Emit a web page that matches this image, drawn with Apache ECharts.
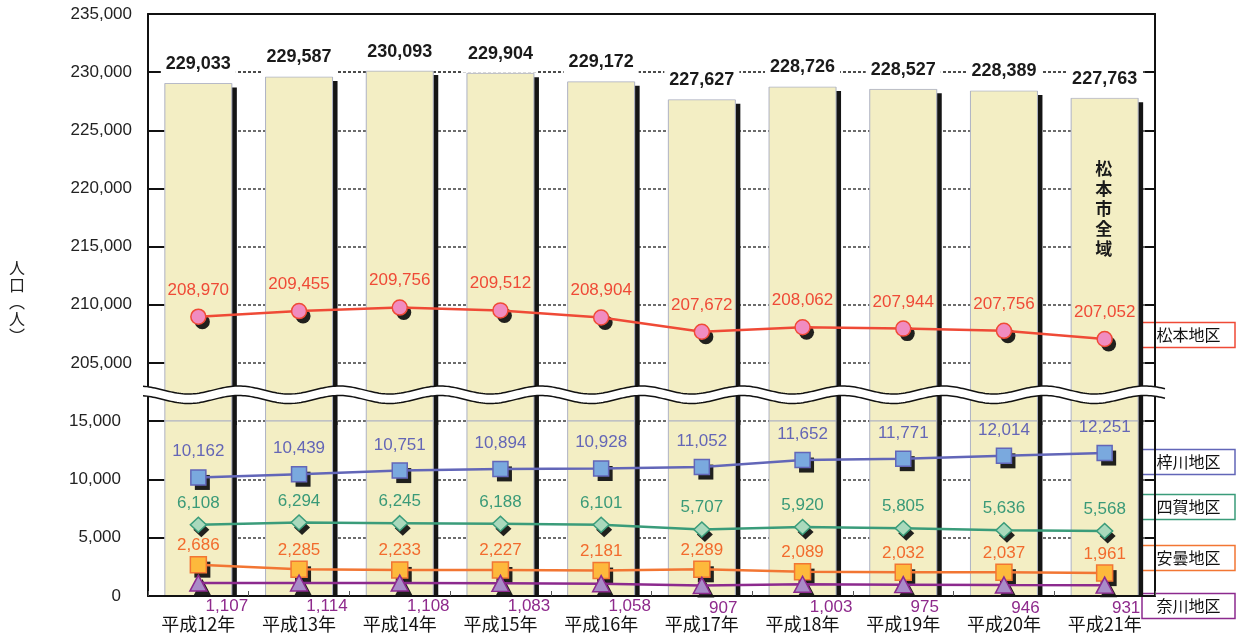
<!DOCTYPE html>
<html>
<head>
<meta charset="utf-8">
<title>松本市 地区別人口の推移</title>
<script src="https://cdn.jsdelivr.net/npm/echarts@6/dist/echarts.min.js"></script>
<style>
  html, body { margin: 0; padding: 0; background: #fff; }
  #chart { width: 1240px; height: 637px; }
</style>
</head>
<body>
<div id="chart"></div>
<script>
// ---- data ----
const years = ['平成12年', '平成13年', '平成14年', '平成15年', '平成16年',
               '平成17年', '平成18年', '平成19年', '平成20年', '平成21年'];
const cityTotal = [229033, 229587, 230093, 229904, 229172, 227627, 228726, 228527, 228389, 227763];
const matsumoto = [208970, 209455, 209756, 209512, 208904, 207672, 208062, 207944, 207756, 207052];
const azusagawa = [10162, 10439, 10751, 10894, 10928, 11052, 11652, 11771, 12014, 12251];
const shiga     = [6108, 6294, 6245, 6188, 6101, 5707, 5920, 5805, 5636, 5568];
const azumi     = [2686, 2285, 2233, 2227, 2181, 2289, 2089, 2032, 2037, 1961];
const nagawa    = [1107, 1114, 1108, 1083, 1058, 907, 1003, 975, 946, 931];
// value-axis ranges of the upper and lower panels (either side of the break)
const upperRange = [200000, 235000];
const lowerRange = [0, 15000];
const tickStep = 5000;
const districtNames = ['松本地区', '梓川地区', '四賀地区', '安曇地区', '奈川地区'];
const cityName = '松本市全域';
const axisTitle = '人口（人）';

// ---- layout ----
const PLOT_L = 148, PLOT_R = 1155, PLOT_T = 14, PLOT_MID = 421, PLOT_B = 596;
const BAR_W = 67;
const NUM_FONT = '"Liberation Sans", Arial, sans-serif';
const CJK_FONT = '"Noto Sans CJK JP", "Noto Sans", sans-serif';
const fmt = v => Number(v).toLocaleString('en-US');

const colors = {
  matsumoto: { line: '#EF4A36', fill: '#F08CC0', label: '#EF4A36' },
  azusagawa: { line: '#6266B8', fill: '#7AA9DE', label: '#6466B6' },
  shiga:     { line: '#3A9C7A', fill: '#AAD9BC', label: '#3A9A78' },
  azumi:     { line: '#F27633', fill: '#FDB93C', label: '#F26B2D' },
  nagawa:    { line: '#8C2A8E', fill: '#A98BC8', label: '#8E2A8C' }
};

const chart = echarts.init(document.getElementById('chart'), null, { renderer: 'canvas' });

// city total columns: cream bar with a hard black drop shadow to the lower right
function columnRenderer(panelMin, withLabel) {
  return function (params, api) {
    const cat = api.value(0);
    const val = api.value(1);
    const top = api.coord([cat, val]);
    const base = api.coord([cat, panelMin]);
    const cs = params.coordSys;
    const area = { x: cs.x, y: cs.y, width: cs.width, height: cs.height };
    const h = base[1] - top[1];
    const body = echarts.graphic.clipRectByRect(
      { x: top[0] - BAR_W / 2, y: top[1], width: BAR_W, height: h }, area);
    const shade = echarts.graphic.clipRectByRect(
      { x: top[0] - BAR_W / 2 + 5, y: top[1] + 4, width: BAR_W, height: h },
      withLabel ? { x: area.x, y: area.y, width: area.width + 10, height: area.height + 4 } : area);
    const children = [];
    if (shade) children.push({ type: 'rect', shape: shade, style: { fill: '#151515' } });
    if (body) {
      const bar = {
        type: 'rect', shape: body,
        style: { fill: '#F3EEC4', stroke: '#AEB2C4', lineWidth: 1 }
      };
      if (withLabel) {
        bar.textContent = {
          style: {
            text: fmt(val),
            font: 'bold 18px ' + NUM_FONT,
            fill: '#1a1a1a',
            backgroundColor: '#fff',
            padding: [10, 5, 10, 5]
          }
        };
        bar.textConfig = { position: 'top', distance: 0 };
      }
      children.push(bar);
    }
    return { type: 'group', children: children };
  };
}

function lineSeries(name, data, c, symbol, size, grid, labelCfg) {
  return {
    name: name,
    type: 'line',
    xAxisIndex: grid,
    yAxisIndex: grid,
    data: data,
    symbol: symbol,
    symbolSize: size,
    showAllSymbol: true,
    z: 4,
    lineStyle: { color: c.line, width: 2.5 },
    itemStyle: { color: c.fill, borderColor: c.line, borderWidth: 1.5 },
    label: Object.assign({
      show: true,
      formatter: p => fmt(p.value),
      color: c.label,
      fontSize: 17,
      fontFamily: NUM_FONT
    }, labelCfg),
    emphasis: { disabled: true }
  };
}
// drop shadow under each marker
function markerShadow(data, symbol, size, grid, offset) {
  return {
    type: 'scatter',
    xAxisIndex: grid,
    yAxisIndex: grid,
    data: data,
    symbol: symbol,
    symbolSize: size,
    symbolOffset: offset,
    silent: true,
    z: 3,
    itemStyle: { color: '#141414', opacity: 0.95 },
    emphasis: { disabled: true }
  };
}

const grey = '#3c3c3c';
function leftAxis(grid, range, labelMargin, splitColors, showMax) {
  return {
    type: 'value',
    gridIndex: grid,
    position: 'left',
    min: range[0],
    max: range[1],
    interval: tickStep,
    axisLine: { show: true, onZero: false, lineStyle: { color: '#111', width: 2 } },
    axisTick: { show: true, inside: true, length: 16, lineStyle: { color: '#111', width: 2 } },
    axisLabel: {
      color: '#222', fontSize: 17, fontFamily: NUM_FONT, margin: labelMargin,
      formatter: v => (v === upperRange[0] ? '' : fmt(v))
    },
    splitLine: {
      show: true,
      showMinLine: false,
      showMaxLine: showMax,
      lineStyle: { color: splitColors, type: [3, 2], width: 1.5 }
    }
  };
}
function rightAxis(grid, range) {
  return {
    type: 'value',
    gridIndex: grid,
    position: 'right',
    min: range[0],
    max: range[1],
    interval: tickStep,
    axisLine: { show: true, onZero: false, lineStyle: { color: '#111', width: 2 } },
    axisTick: { show: true, inside: true, length: 10, lineStyle: { color: '#111', width: 2 } },
    axisLabel: { show: false },
    splitLine: { show: false }
  };
}

// wavy break band across the plot between the two panels
const catW = (PLOT_R - PLOT_L) / years.length;
function wave(yc, x0, x1) {
  const pts = [];
  const trough = PLOT_L + 0.4 * catW;
  for (let x = x0; x <= x1 + 0.01; x += 2) {
    pts.push([x, yc + 4 * Math.cos(2 * Math.PI * (x - trough) / catW)]);
  }
  return pts;
}
const bx0 = PLOT_L - 5, bx1 = PLOT_R + 10;
const waveTop = wave(390, bx0, bx1);
const waveBot = wave(399.5, bx0, bx1);
const bandPts = waveTop.concat(waveBot.slice().reverse());

// district name boxes at the right edge
const boxCenters = [335, 462, 507, 558, 606];
const boxColors = [colors.matsumoto.line, colors.azusagawa.line, colors.shiga.line, colors.azumi.line, colors.nagawa.line];
const boxGraphics = districtNames.map((n, i) => ({
  type: 'group',
  z: 120,
  children: [
    {
      type: 'rect',
      shape: { x: 1142, y: boxCenters[i] - 12.5, width: 93, height: 25 },
      style: { fill: '#fff', stroke: boxColors[i], lineWidth: 1.5 }
    },
    {
      type: 'text',
      x: 1188.5, y: boxCenters[i],
      style: {
        text: n, fill: '#111', font: '16px ' + CJK_FONT,
        align: 'center', verticalAlign: 'middle'
      }
    }
  ]
}));

const totalPairs = cityTotal.map((v, i) => [i, v]);

const option = {
  animation: false,
  backgroundColor: '#fff',
  grid: [
    { left: PLOT_L, width: PLOT_R - PLOT_L, top: PLOT_T, height: PLOT_MID - PLOT_T },
    { left: PLOT_L, width: PLOT_R - PLOT_L, top: PLOT_MID, height: PLOT_B - PLOT_MID }
  ],
  xAxis: [
    {
      type: 'category', gridIndex: 0, data: years, position: 'top',
      axisLine: { show: true, onZero: false, lineStyle: { color: '#111', width: 2 } },
      axisTick: { show: false }, axisLabel: { show: false }, splitLine: { show: false }
    },
    {
      type: 'category', gridIndex: 1, data: years, position: 'bottom', z: 3,
      axisLine: { show: true, onZero: false, lineStyle: { color: '#111', width: 2 } },
      axisTick: { show: true, inside: true, length: 5, lineStyle: { color: '#555', width: 1 } },
      axisLabel: { color: '#111', fontSize: 18, fontFamily: CJK_FONT, margin: 19 },
      splitLine: { show: false }
    }
  ],
  yAxis: [
    leftAxis(0, upperRange, 16, [grey, grey, grey, grey, grey, '#111', '#111'], false),
    leftAxis(1, lowerRange, 27, [grey], true),
    rightAxis(0, upperRange),
    rightAxis(1, lowerRange)
  ],
  series: [
    {
      name: cityName,
      type: 'custom',
      xAxisIndex: 0, yAxisIndex: 0,
      data: totalPairs,
      encode: { x: 0, y: 1 },
      renderItem: columnRenderer(upperRange[0], true),
      z: 2
    },
    {
      name: cityName,
      type: 'custom',
      xAxisIndex: 1, yAxisIndex: 1,
      data: totalPairs,
      encode: { x: 0, y: 1 },
      renderItem: columnRenderer(lowerRange[0], false),
      z: 2
    },
    markerShadow(matsumoto, 'circle', 15, 0, [4, 5]),
    markerShadow(azusagawa, 'rect', 15, 1, [4, 5]),
    markerShadow(shiga, 'diamond', [16, 15], 1, [3, 5]),
    markerShadow(azumi, 'rect', 16, 1, [4, 5]),
    markerShadow(nagawa, 'triangle', [17, 16], 1, [4, 4]),
    lineSeries(districtNames[0], matsumoto, colors.matsumoto, 'circle', 15, 0, { position: 'top', distance: 10 }),
    lineSeries(districtNames[1], azusagawa, colors.azusagawa, 'rect', 15, 1, { position: 'top', distance: 9 }),
    lineSeries(districtNames[2], shiga, colors.shiga, 'diamond', [16, 15], 1, { position: 'top', distance: 5 }),
    lineSeries(districtNames[3], azumi, colors.azumi, 'rect', 16, 1, { position: 'top', distance: 2 }),
    lineSeries(districtNames[4], nagawa, colors.nagawa, 'triangle', [17, 16], 1,
               { position: 'right', distance: 0, offset: [-2, 23], align: 'left', verticalAlign: 'middle' })
  ],
  graphic: [
    // break band
    { type: 'polygon', z: 100, shape: { points: bandPts }, style: { fill: '#fff' } },
    { type: 'polyline', z: 101, shape: { points: waveTop }, style: { stroke: '#111', lineWidth: 1.5, fill: null } },
    { type: 'polyline', z: 101, shape: { points: waveBot }, style: { stroke: '#111', lineWidth: 1.5, fill: null } },
    // vertical axis title
    {
      type: 'text', z: 100, x: 17, y: 259,
      style: {
        text: axisTitle.split('').map(ch => ch === '（' ? '︵' : ch === '）' ? '︶' : ch).join('\n'),
        fill: '#222', font: '16px ' + CJK_FONT, align: 'center', lineHeight: 17
      }
    },
    // whole-city caption inside the last column
    {
      type: 'text', z: 100, x: PLOT_L + 9.5 * catW - 1, y: 159,
      style: {
        text: cityName.split('').join('\n'),
        fill: '#1a1a1a', font: 'bold 17px ' + CJK_FONT, align: 'center', lineHeight: 20
      }
    }
  ].concat(boxGraphics)
};

chart.setOption(option);
</script>
</body>
</html>
